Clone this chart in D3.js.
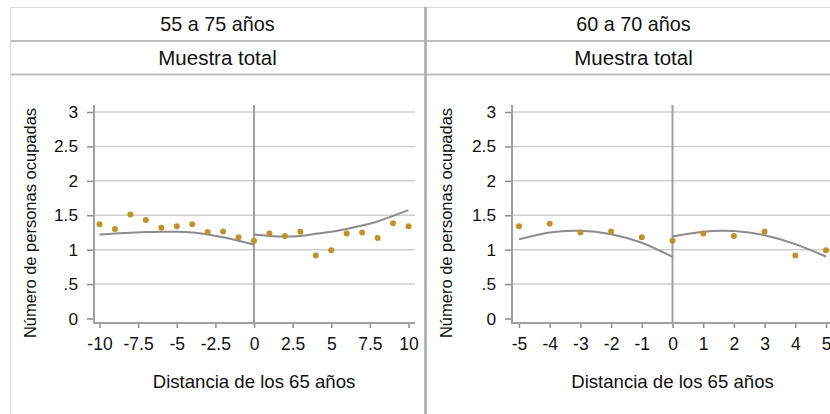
<!DOCTYPE html>
<html>
<head>
<meta charset="utf-8">
<script src="https://cdn.jsdelivr.net/npm/d3@7"></script>
<style>
  html, body { margin: 0; padding: 0; background: #fff; }
  svg { display: block; font-family: "Liberation Sans", Arial, sans-serif; }
</style>
</head>
<body>
<svg id="chart" width="830" height="414"></svg>
<script>
// Panel headers
const panelTitles = ["55 a 75 años", "60 a 70 años"];
const panelSubtitle = "Muestra total";
const yTitle = "Número de personas ocupadas";
const xTitle = "Distancia de los 65 años";

// Y axis ticks (shared)
const yTicks = [0, 0.5, 1, 1.5, 2, 2.5, 3];
const yTickLabels = ["0", ".5", "1", "1.5", "2", "2.5", "3"];

// Panel 1: 55 a 75 años
const xTicksA = [-10, -7.5, -5, -2.5, 0, 2.5, 5, 7.5, 10];
const distA = [-10, -9, -8, -7, -6, -5, -4, -3, -2, -1, 0, 1, 2, 3, 4, 5, 6, 7, 8, 9, 10];
const meanA = [1.37, 1.30, 1.51, 1.43, 1.32, 1.34, 1.37, 1.255, 1.265, 1.18, 1.13,
               1.235, 1.20, 1.26, 0.915, 0.99, 1.235, 1.25, 1.17, 1.385, 1.34];
const fitLeftXA = [-10, -9, -8, -7, -6, -5, -4, -3, -2, -1, 0];
const fitLeftYA = [1.22, 1.235, 1.245, 1.255, 1.26, 1.26, 1.25, 1.22, 1.18, 1.13, 1.075];
const fitRightXA = [0, 1, 2, 3, 4, 5, 6, 7, 8, 9, 10];
const fitRightYA = [1.22, 1.20, 1.19, 1.20, 1.23, 1.26, 1.30, 1.35, 1.41, 1.49, 1.575];

// Panel 2: 60 a 70 años
const xTicksB = [-5, -4, -3, -2, -1, 0, 1, 2, 3, 4, 5];
const distB = [-5, -4, -3, -2, -1, 0, 1, 2, 3, 4, 5];
const meanB = [1.34, 1.375, 1.25, 1.265, 1.18, 1.13, 1.235, 1.20, 1.265, 0.915, 0.99];
const fitLeftXB = [-5, -4, -3, -2, -1, 0];
const fitLeftYB = [1.15, 1.25, 1.275, 1.225, 1.10, 0.895];
const fitRightXB = [0, 1, 2, 3, 4, 5];
const fitRightYB = [1.19, 1.26, 1.27, 1.21, 1.08, 0.90];

const svg = d3.select("#chart");

const panels = [
  { title: panelTitles[0], x0: 10, w: 415, axisX: 94, plotR: 415, xr: [99.5, 408.5], dom: [-10, 10],
    ticks: xTicksA, dist: distA, mean: meanA,
    fits: [[fitLeftXA, fitLeftYA], [fitRightXA, fitRightYA]] },
  { title: panelTitles[1], x0: 426, w: 415, axisX: 512, plotR: 834, xr: [519, 826], dom: [-5, 5],
    ticks: xTicksB, dist: distB, mean: meanB,
    fits: [[fitLeftXB, fitLeftYB], [fitRightXB, fitRightYB]] }
];

const plotTop = 105, axisY = 323;
const y = d3.scaleLinear().domain([0, 3]).range([318.5, 112]);

const C = {
  frame: "#dcdcdc", band: "#bdbdbd", divider: "#a9a9a9",
  grid: "#cfcfcf", axis: "#a0a0a0", tick: "#8a8a8a",
  fit: "#8c8c90", dot: "#c0922a", text: "#111"
};
const FONT = "Liberation Sans, Arial, sans-serif";

panels.forEach(p => {
  const g = svg.append("g");

  // header strips
  g.append("line").attr("x1", p.x0).attr("x2", p.x0 + p.w).attr("y1", 7.5).attr("y2", 7.5)
    .attr("stroke", C.frame).attr("stroke-width", 1);
  g.append("line").attr("x1", p.x0).attr("x2", p.x0 + p.w).attr("y1", 41).attr("y2", 41)
    .attr("stroke", C.band).attr("stroke-width", 2);
  g.append("line").attr("x1", p.x0).attr("x2", p.x0 + p.w).attr("y1", 74.5).attr("y2", 74.5)
    .attr("stroke", C.band).attr("stroke-width", 2);
  g.append("text").attr("x", p.x0 + p.w / 2).attr("y", 31).attr("text-anchor", "middle")
    .attr("font-size", 19.8).attr("fill", C.text).text(p.title);
  g.append("text").attr("x", p.x0 + p.w / 2).attr("y", 65).attr("text-anchor", "middle")
    .attr("font-size", 20.5).attr("fill", C.text).text(panelSubtitle);

  const x = d3.scaleLinear().domain(p.dom).range(p.xr);

  // horizontal grid
  g.append("g").selectAll("line").data(yTicks.filter(d => d > 0)).join("line")
    .attr("x1", p.axisX).attr("x2", p.plotR)
    .attr("y1", d => y(d)).attr("y2", d => y(d))
    .attr("stroke", C.grid).attr("stroke-width", 1.5);

  // y axis
  const yAxis = d3.axisLeft(y).tickValues(yTicks).tickSize(7).tickPadding(9)
    .tickFormat((d, i) => yTickLabels[i]);
  const ya = g.append("g").attr("transform", `translate(${p.axisX},0)`).call(yAxis);
  ya.select(".domain").remove();
  ya.selectAll(".tick line").attr("stroke", C.tick).attr("stroke-width", 1.5);
  ya.selectAll(".tick text").attr("font-size", 17.3).attr("fill", C.text)
    .attr("font-family", FONT);
  g.append("line").attr("x1", p.axisX).attr("x2", p.axisX).attr("y1", plotTop).attr("y2", axisY + 1)
    .attr("stroke", C.axis).attr("stroke-width", 2);

  // x axis
  const xAxis = d3.axisBottom(x).tickValues(p.ticks).tickSize(5).tickPadding(10)
    .tickFormat(d => d3.format("")(d).replace("−", "-"));
  const xa = g.append("g").attr("transform", `translate(0,${axisY})`).call(xAxis);
  xa.select(".domain").remove();
  xa.selectAll(".tick line").attr("stroke", C.tick).attr("stroke-width", 1.5);
  xa.selectAll(".tick text").attr("font-size", 17.5).attr("fill", C.text)
    .attr("font-family", FONT);
  g.append("line").attr("x1", p.axisX).attr("x2", p.plotR).attr("y1", axisY).attr("y2", axisY)
    .attr("stroke", C.axis).attr("stroke-width", 2);

  // cutoff at distance 0
  g.append("line").attr("x1", x(0)).attr("x2", x(0)).attr("y1", plotTop).attr("y2", axisY)
    .attr("stroke", C.axis).attr("stroke-width", 2);

  // fitted curves on each side of the cutoff
  const line = d3.line().x(d => x(d[0])).y(d => y(d[1])).curve(d3.curveNatural);
  p.fits.forEach(([fx, fy]) => {
    g.append("path").datum(fx.map((v, i) => [v, fy[i]])).attr("d", line)
      .attr("fill", "none").attr("stroke", C.fit).attr("stroke-width", 2);
  });

  // bin means
  g.append("g").selectAll("circle").data(p.dist.map((v, i) => [v, p.mean[i]])).join("circle")
    .attr("cx", d => x(d[0])).attr("cy", d => y(d[1])).attr("r", 3)
    .attr("fill", C.dot);

  // axis titles
  g.append("text").attr("transform", `translate(${p.x0 + 26},223) rotate(-90)`)
    .attr("text-anchor", "middle").attr("font-size", 16.5).attr("fill", C.text).text(yTitle);
  g.append("text").attr("x", x(0)).attr("y", 388).attr("text-anchor", "middle")
    .attr("font-size", 18.6).attr("fill", C.text).text(xTitle);
});

// outer left edge and panel divider
svg.append("line").attr("x1", 10.5).attr("x2", 10.5).attr("y1", 7).attr("y2", 414)
  .attr("stroke", C.frame).attr("stroke-width", 1);
svg.append("line").attr("x1", 425.5).attr("x2", 425.5).attr("y1", 7).attr("y2", 414)
  .attr("stroke", C.divider).attr("stroke-width", 2.5);
</script>
</body>
</html>
